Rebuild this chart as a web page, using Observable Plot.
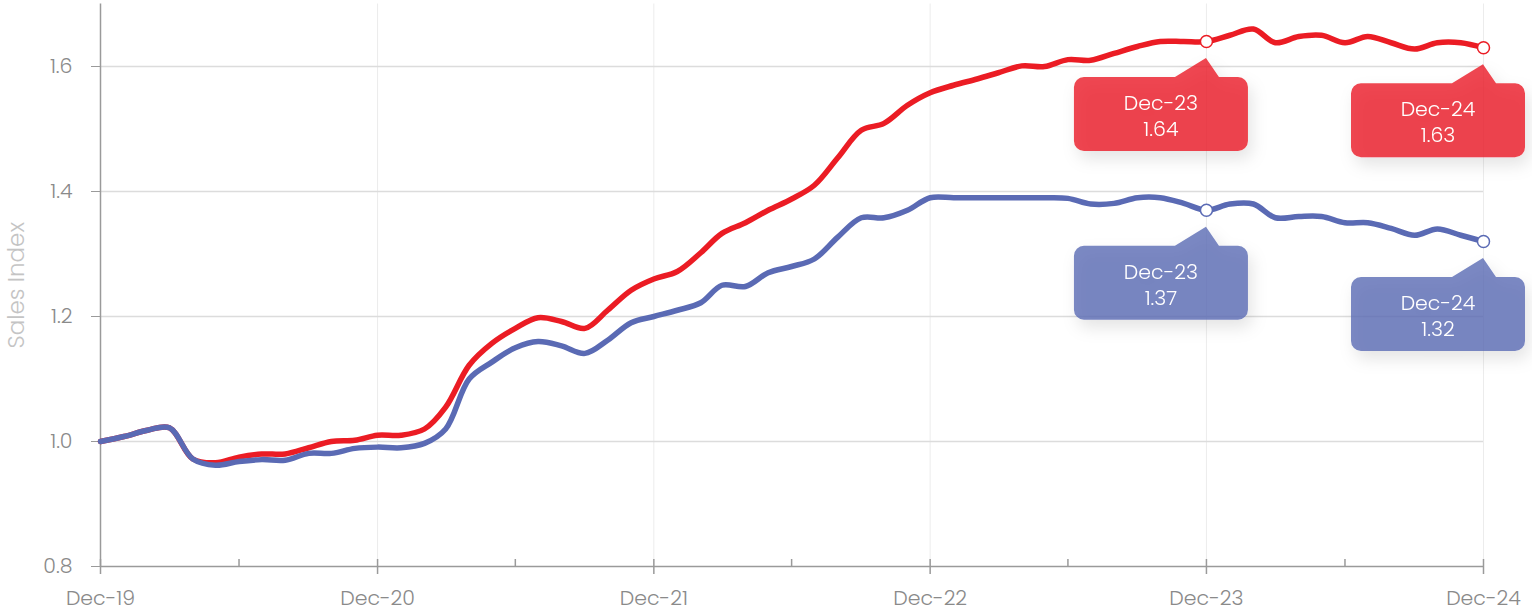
<!DOCTYPE html>
<html><head><meta charset="utf-8">
<script src="https://cdn.jsdelivr.net/npm/d3@7"></script>
<script src="https://cdn.jsdelivr.net/npm/@observablehq/plot@0.6"></script>
<style>
html,body{margin:0;padding:0;background:#fff;}
#chart{width:1532px;height:611px;overflow:hidden;}
</style></head><body><div id="chart"></div>
<script>
// ---- data ----
const firstMonth = [2019, 11];          // Dec-19 (UTC year, month index)
const monthCount = 61;                   // Dec-19 .. Dec-24 monthly
const seriesNames = ["Series A", "Series B"];
const redValues = [
  1.000, 1.008, 1.018, 1.022, 0.972, 0.966, 0.975, 0.980, 0.980, 0.990,
  1.000, 1.002, 1.010, 1.010, 1.020, 1.055, 1.122, 1.157, 1.181, 1.198,
  1.192, 1.181, 1.210, 1.242, 1.260, 1.272, 1.302, 1.333, 1.350, 1.370,
  1.388, 1.410, 1.454, 1.498, 1.509, 1.538, 1.558, 1.570, 1.580, 1.590,
  1.601, 1.600, 1.611, 1.610, 1.621, 1.632, 1.640, 1.640, 1.640, 1.650,
  1.660, 1.638, 1.648, 1.650, 1.638, 1.648, 1.638, 1.628, 1.638, 1.638,
  1.630
];
const blueValues = [
  1.000, 1.008, 1.018, 1.022, 0.972, 0.962, 0.968, 0.971, 0.970, 0.981,
  0.981, 0.989, 0.991, 0.990, 0.997, 1.020, 1.100, 1.127, 1.150, 1.160,
  1.153, 1.141, 1.162, 1.190, 1.200, 1.210, 1.222, 1.250, 1.248, 1.270,
  1.280, 1.292, 1.327, 1.358, 1.358, 1.370, 1.390, 1.390, 1.390, 1.390,
  1.390, 1.390, 1.389, 1.380, 1.381, 1.390, 1.390, 1.381, 1.370, 1.380,
  1.380, 1.358, 1.360, 1.360, 1.350, 1.350, 1.341, 1.330, 1.340, 1.330,
  1.320
];
const yTicks = [0.8, 1.0, 1.2, 1.4, 1.6];
const majorTickMonths = [0, 12, 24, 36, 48, 60];   // Dec of each year
const minorTickMonths = [6, 18, 30, 42, 54];       // Jun of each year
const calloutMonths = [48, 60];                    // Dec-23, Dec-24
const yLabel = "Sales Index";

// ---- styles ----
const RED = "#eb1c24", BLUE = "#5a6ab4";
const FONT = "Poppins, 'Open Sans', Lato, sans-serif";
const AXIS = "#9a9a9a", LABEL = "#8a8a8a";

// ---- build ----
const start = new Date(Date.UTC(firstMonth[0], firstMonth[1], 1));
const monthDate = i => d3.utcMonth.offset(start, i);
const dates = d3.range(monthCount).map(monthDate);
const valuesBySeries = [redValues, blueValues];
const rows = seriesNames.flatMap((s, k) => dates.map((d, i) => ({date: d, value: valuesBySeries[k][i], series: s})));
const calloutRows = seriesNames.flatMap((s, k) => calloutMonths.map(i => ({date: dates[i], value: valuesBySeries[k][i], series: s})));
const majorDates = majorTickMonths.map(monthDate);
const minorDates = minorTickMonths.map(monthDate);
const fmtMonth = d3.utcFormat("%b-%y");

const plot = Plot.plot({
  width: 1532, height: 611,
  marginLeft: 100, marginRight: 49, marginTop: 3.5, marginBottom: 45,
  style: {fontFamily: FONT, fontSize: "20.5px", background: "#fff", overflow: "visible"},
  x: {type: "utc", domain: [dates[0], dates[dates.length - 1]]},
  y: {domain: [0.8, 1.7]},
  color: {domain: seriesNames, range: [RED, BLUE]},
  marks: [
    Plot.ruleX(majorDates.slice(1), {stroke: "#ececec", strokeWidth: 1}),
    Plot.ruleY(yTicks.slice(1), {stroke: "#dcdcdc", strokeWidth: 1.5}),
    Plot.axisY({ticks: yTicks, tickSize: 9, tickPadding: 19, tickFormat: d3.format(".1f"), color: LABEL, stroke: AXIS, label: null, fontWeight: 300}),
    Plot.axisX({ticks: majorDates, tickSize: 0, tickPadding: 24, tickFormat: fmtMonth, color: LABEL, label: null, fontWeight: 300}),
    Plot.ruleX([dates[0]], {stroke: AXIS, strokeWidth: 1.5}),
    Plot.ruleY([0.8], {stroke: AXIS, strokeWidth: 1.5}),
    Plot.ruleX(majorDates, {y1: 0.8, y2: 0.8, insetTop: -7, insetBottom: -8, stroke: AXIS, strokeWidth: 1.5}),
    Plot.ruleX(minorDates, {y1: 0.8, y2: 0.8, insetTop: -7, insetBottom: 0, stroke: AXIS, strokeWidth: 1.5}),
    Plot.line(rows, {x: "date", y: "value", z: "series", stroke: "series", strokeWidth: 5.5, curve: "catmull-rom"}),
    Plot.dot(calloutRows, {x: "date", y: "value", stroke: "series", fill: "white", r: 6, strokeWidth: 1.5}),
    Plot.text([yLabel], {frameAnchor: "left", textAnchor: "middle", rotate: -90, dx: -84, fill: "#c4c4c4", fontSize: 23, fontWeight: 300})
  ]
});

document.getElementById("chart").appendChild(plot);

// ---- callouts, positioned through Plot's own scales ----
const xs = plot.scale("x"), ys = plot.scale("y"), cs = plot.scale("color");
const svg = d3.select(plot);
const defs = svg.append("defs");
const f = defs.append("filter").attr("id", "calloutShadow").attr("x", "-30%").attr("y", "-30%").attr("width", "170%").attr("height", "190%");
f.append("feDropShadow").attr("dx", 4).attr("dy", 8).attr("stdDeviation", 8).attr("flood-color", "#000").attr("flood-opacity", 0.13);

const gCall = svg.insert("g", "g[aria-label=dot]").attr("class", "callouts");
calloutRows.forEach(r => {
  const px = xs.apply(r.date), py = ys.apply(r.value);
  const color = cs.apply(r.series);
  const tipY = py + 17, top = py + 36, left = px - 132, w = 174, h = 74;
  const g = gCall.append("g").attr("filter", "url(#calloutShadow)");
  const path = d3.path();
  const rr = 10;
  path.moveTo(left + rr, top);
  path.lineTo(px - 31, top);
  path.lineTo(px, tipY);
  path.lineTo(px + 13, top);
  path.lineTo(left + w - rr, top);
  path.arcTo(left + w, top, left + w, top + rr, rr);
  path.lineTo(left + w, top + h - rr);
  path.arcTo(left + w, top + h, left + w - rr, top + h, rr);
  path.lineTo(left + rr, top + h);
  path.arcTo(left, top + h, left, top + h - rr, rr);
  path.lineTo(left, top + rr);
  path.arcTo(left, top, left + rr, top, rr);
  path.closePath();
  g.append("path").attr("d", path.toString()).attr("fill", color).attr("fill-opacity", 0.8);
  const cx = left + w / 2;
  g.append("text").attr("x", cx).attr("y", top + 33).attr("text-anchor", "middle")
    .attr("fill", "#fff").attr("font-size", 20.5).attr("font-weight", 300).attr("font-family", FONT).text(fmtMonth(r.date));
  g.append("text").attr("x", cx).attr("y", top + 59).attr("text-anchor", "middle")
    .attr("fill", "#fff").attr("font-size", 20.5).attr("font-weight", 300).attr("font-family", FONT).text(d3.format(".2f")(r.value));
});
</script>
</body></html>
